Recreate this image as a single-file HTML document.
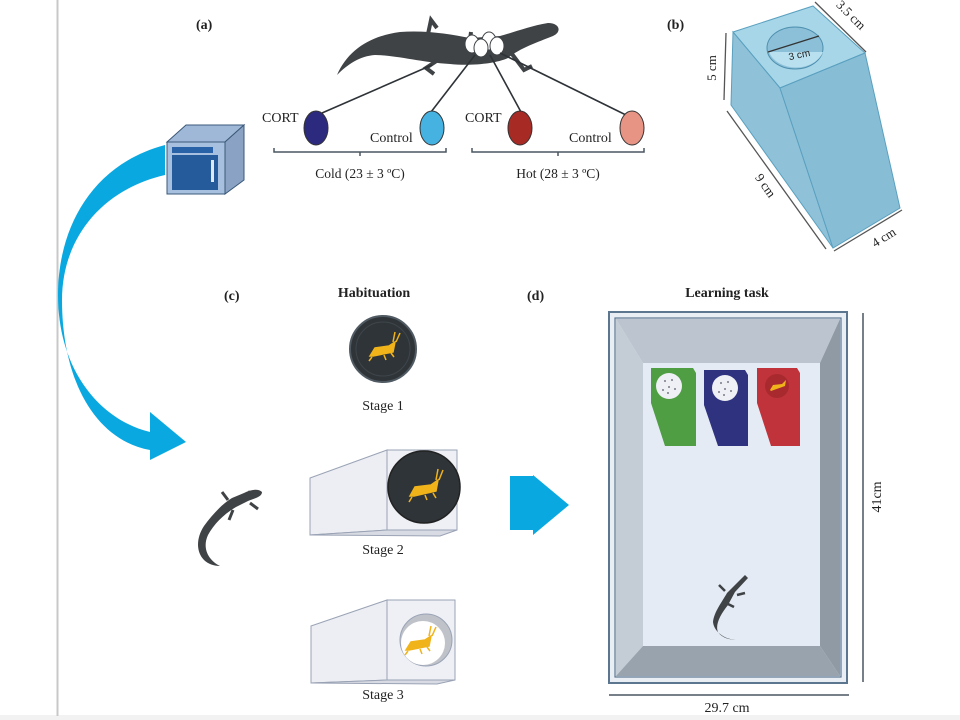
<!DOCTYPE html>
<html><head><meta charset="utf-8"><style>
html,body{margin:0;padding:0;background:#fff}
svg{display:block}
text{font-family:"Liberation Serif",serif;fill:#222}
.b{font-weight:bold}
</style></head><body>
<svg width="960" height="720" viewBox="0 0 960 720" xmlns="http://www.w3.org/2000/svg">
<rect width="960" height="720" fill="#fff"/>
<rect x="0" y="715" width="960" height="5" fill="#f2f2f2"/>
<line x1="57.5" y1="0" x2="57.5" y2="716" stroke="#c8c8c8" stroke-width="2"/>

<!-- (a) -->
<text x="196" y="29" font-size="14" class="b">(a)</text>
<path d="M337,75 C348,50 370,36 400,32 C425,30 450,34 470,38 L500,36 C515,32 530,26 548,23 C560,23 562,32 553,36 C538,42 520,48 508,58 C495,64 470,66 450,64 C420,62 395,55 375,55 C360,56 348,64 337,75 Z" fill="#3f4346"/>
<path d="M428,34 l3,-14 l6,8 M438,60 l-12,8 l8,6 M512,54 l12,16 l8,-4 M470,40 l1,-8" stroke="#3f4346" stroke-width="4" fill="none"/>
<g fill="#fff" stroke="#3f4346" stroke-width="1">
<ellipse cx="472" cy="44" rx="7" ry="9"/><ellipse cx="489" cy="41" rx="7" ry="9"/><ellipse cx="497" cy="46" rx="7" ry="9"/><ellipse cx="481" cy="48" rx="7" ry="9"/></g>
<g stroke="#2e3338" stroke-width="1.6">
<line x1="432" y1="65" x2="322" y2="113"/><line x1="475" y1="55" x2="431" y2="112"/>
<line x1="490" y1="55" x2="521" y2="112"/><line x1="500" y1="53" x2="626" y2="115"/></g>
<ellipse cx="316" cy="128" rx="12" ry="17" fill="#2b2a7e" stroke="#333"/>
<ellipse cx="432" cy="128" rx="12" ry="17" fill="#46b2e2" stroke="#333"/>
<ellipse cx="520" cy="128" rx="12" ry="17" fill="#a82a25" stroke="#333"/>
<ellipse cx="632" cy="128" rx="12" ry="17" fill="#e89484" stroke="#333"/>
<text x="262" y="122" font-size="14">CORT</text>
<text x="370" y="142" font-size="14">Control</text>
<text x="465" y="122" font-size="14">CORT</text>
<text x="569" y="142" font-size="14">Control</text>
<g stroke="#4a5560" stroke-width="1.5" fill="none">
<path d="M274,148 v4 h172 v-4 M360,152 v4"/><path d="M472,148 v4 h172 v-4 M558,152 v4"/></g>
<text x="360" y="178" font-size="13.5" text-anchor="middle">Cold (23 ± 3 ºC)</text>
<text x="558" y="178" font-size="13.5" text-anchor="middle">Hot (28 ± 3 ºC)</text>

<!-- incubator -->
<path d="M167,142 L186,125 L244,125 L225,142 Z" fill="#9fb8d8" stroke="#3b5878"/>
<path d="M225,142 L244,125 L244,180 L225,194 Z" fill="#8aa3c4" stroke="#3b5878"/>
<rect x="167" y="142" width="58" height="52" fill="#a8c0e0" stroke="#3b5878"/>
<rect x="172" y="147" width="41" height="6" fill="#2a62a8"/>
<rect x="172" y="155" width="46" height="35" fill="#255b9b"/>
<rect x="211" y="160" width="3" height="22" fill="#dfe8f3"/>

<!-- curved arrow -->
<path d="M165,145 C90,165 58,230 58,295 C58,370 100,420 150,432 L150,412 L186,442 L150,460 L150,450 C95,440 62,380 62,300 C62,240 100,190 165,175 Z" fill="#0aa8e0"/>
<!-- small lizard -->
<path d="M262,492 C258,488 250,490 244,493 L232,498 C222,504 212,515 204,526 C196,538 196,552 204,560 C208,564 214,566 220,566 C208,560 202,548 208,535 C214,524 224,514 236,507 L248,501 C255,498 262,497 262,492 Z" fill="#3f4346"/>
<path d="M228,500 l-6,-8 M233,510 l-4,10 M248,497 l2,-6 M250,503 l8,6" stroke="#3f4346" stroke-width="3"/>

<!-- (c) -->
<text x="224" y="300" font-size="14" class="b">(c)</text>
<text x="374" y="297" font-size="14" class="b" text-anchor="middle">Habituation</text>
<circle cx="383" cy="349" r="33" fill="#2f3438" stroke="#505a62" stroke-width="2"/>
<circle cx="383" cy="349" r="27" fill="none" stroke="#3e464c" stroke-width="1"/>
<g fill="#f0b31a" stroke="#f0b31a" stroke-width="1.5">
<path d="M370,356 l5,-8 l14,-2 l6,-4 l-2,10 l-20,4 Z"/>
<path d="M393,342 l2,-10 M396,342 l4,-9 M372,357 l-3,4 M384,355 l2,5 M391,353 l3,4" fill="none"/></g>
<text x="383" y="410" font-size="14" text-anchor="middle">Stage 1</text>

<!-- stage 2 -->
<path d="M310,478 L387,450 L387,530 L310,535 Z" fill="#eceef3" stroke="#9aa3b5"/>
<path d="M310,535 L387,530 L457,530 L440,536 Z" fill="#d8dbe3" stroke="#9aa3b5"/>
<rect x="387" y="450" width="70" height="80" fill="#eef0f5" stroke="#9aa3b5"/>
<circle cx="424" cy="487" r="36" fill="#2f3438" stroke="#222" stroke-width="1.5"/>
<g fill="#f0b31a" stroke="#f0b31a" stroke-width="1.5">
<path d="M410,496 l5,-9 l16,-2 l7,-5 l-2,11 l-22,5 Z"/>
<path d="M436,480 l2,-11 M439,480 l4,-10 M412,497 l-3,5 M425,495 l2,5 M433,493 l3,5" fill="none"/></g>
<text x="383" y="554" font-size="14" text-anchor="middle">Stage 2</text>

<!-- stage 3 -->
<path d="M311,626 L387,600 L387,680 L311,683 Z" fill="#eceef3" stroke="#9aa3b5"/>
<path d="M311,683 L387,680 L455,680 L437,684 Z" fill="#d8dbe3" stroke="#9aa3b5"/>
<rect x="387" y="600" width="68" height="80" fill="#eef0f5" stroke="#9aa3b5"/>
<circle cx="426" cy="640" r="26" fill="#bfc3c9" stroke="#9aa3b5"/>
<circle cx="423" cy="643" r="22" fill="#fff"/>
<g fill="#f0b31a" stroke="#f0b31a" stroke-width="1.5">
<path d="M406,650 l5,-8 l14,-2 l6,-4 l-2,10 l-20,4 Z"/>
<path d="M429,636 l2,-10 M432,636 l4,-9 M408,651 l-3,4 M420,649 l2,5 M427,647 l3,4" fill="none"/></g>
<text x="383" y="699" font-size="14" text-anchor="middle">Stage 3</text>

<!-- right arrow -->
<path d="M510,476 L533,476 L533,475 L569,505 L533,535 L533,530 L510,530 Z" fill="#0aa8e0"/>

<!-- (d) -->
<text x="527" y="300" font-size="14" class="b">(d)</text>
<text x="727" y="297" font-size="14" class="b" text-anchor="middle">Learning task</text>
<rect x="609" y="312" width="238" height="371" fill="#e9eef5" stroke="#5d7690" stroke-width="2"/>
<rect x="615" y="318" width="226" height="359" fill="#e4ebf4" stroke="#5d7690" stroke-width="1.2"/>
<path d="M616,319 L840,319 L820,363 L643,363 Z" fill="#bcc5cf"/>
<path d="M616,319 L643,363 L643,646 L616,676 Z" fill="#c4ccd6"/>
<path d="M840,319 L840,676 L820,646 L820,363 Z" fill="#8f9aa5"/>
<path d="M616,676 L643,646 L820,646 L840,676 Z" fill="#98a3ae"/>
<rect x="643" y="363" width="177" height="283" fill="#e4ebf4"/>
<path d="M651,368 L693,368 L696,373 L696,446 L665,446 L651,403 Z" fill="#4f9e43"/>
<path d="M704,370 L745,370 L748,375 L748,446 L718,446 L704,405 Z" fill="#2f327f"/>
<path d="M757,368 L797,368 L800,373 L800,446 L771,446 L757,403 Z" fill="#c1333a"/>
<circle cx="669" cy="386" r="13" fill="#eef0f5"/>
<circle cx="725" cy="388" r="13" fill="#eef0f5"/>
<circle cx="777" cy="386" r="12" fill="#a82a2f"/>
<path d="M770,390 l3,-5 l9,-1 l4,-4 l-1,6 l-14,5 Z" fill="#f0b31a"/>
<g fill="#556">
<circle cx="665" cy="381" r="0.9"/><circle cx="672" cy="380" r="0.9"/><circle cx="669" cy="387" r="0.9"/><circle cx="663" cy="390" r="0.9"/><circle cx="675" cy="389" r="0.9"/><circle cx="668" cy="393" r="0.9"/>
<circle cx="721" cy="383" r="0.9"/><circle cx="728" cy="382" r="0.9"/><circle cx="725" cy="389" r="0.9"/><circle cx="719" cy="392" r="0.9"/><circle cx="731" cy="391" r="0.9"/><circle cx="724" cy="395" r="0.9"/></g>
<!-- arena lizard -->
<path d="M745,575 L748,578 L735,592 L728,605 C720,615 715,625 718,632 C722,638 730,640 738,640 C725,640 714,632 713,622 C714,612 722,602 727,593 Z" fill="#3f4346"/>
<path d="M719,585 l6,6 M737,595 l8,-2 M726,603 l8,4" stroke="#3f4346" stroke-width="2.5"/>
<line x1="863" y1="313" x2="863" y2="682" stroke="#4a5560" stroke-width="1.5"/>
<text transform="translate(881,497) rotate(-90)" font-size="14" text-anchor="middle">41cm</text>
<line x1="609" y1="695" x2="849" y2="695" stroke="#4a5560" stroke-width="1.5"/>
<text x="727" y="712" font-size="14" text-anchor="middle">29.7 cm</text>

<!-- (b) -->
<text x="667" y="29" font-size="14" class="b">(b)</text>
<path d="M733,32 L813,6 L865,53 L780,88 Z" fill="#a7d6e8" stroke="#5aa0bf"/>
<path d="M733,32 L780,88 L833,248 L731,105 Z" fill="#8fc2d9" stroke="#5aa0bf"/>
<path d="M780,88 L865,53 L900,208 L833,248 Z" fill="#88bdd6" stroke="#5aa0bf"/>
<ellipse cx="795" cy="48" rx="28" ry="21" fill="#8cc0d8" stroke="#4d8fae"/>
<path d="M769,52 A28,21 0 0 0 823,52 Z" fill="#b9e0ef"/>
<line x1="768" y1="52" x2="819" y2="36" stroke="#333" stroke-width="1.3"/>
<text x="800" y="58" font-size="10" transform="rotate(-12 800 58)" text-anchor="middle" style="font-family:'Liberation Sans',sans-serif">3 cm</text>
<g stroke="#555" stroke-width="1.3">
<line x1="726" y1="33" x2="724" y2="100"/><line x1="815" y1="2" x2="866" y2="52"/>
<line x1="727" y1="111" x2="826" y2="249"/><line x1="834" y1="251" x2="902" y2="210"/></g>
<text transform="translate(716,68) rotate(-90)" font-size="13" text-anchor="middle">5 cm</text>
<text transform="translate(848,18) rotate(45)" font-size="13" text-anchor="middle">3.5 cm</text>
<text transform="translate(762,188) rotate(55)" font-size="13" text-anchor="middle">9 cm</text>
<text transform="translate(886,241) rotate(-32)" font-size="13" text-anchor="middle">4 cm</text>
</svg>
</body></html>
